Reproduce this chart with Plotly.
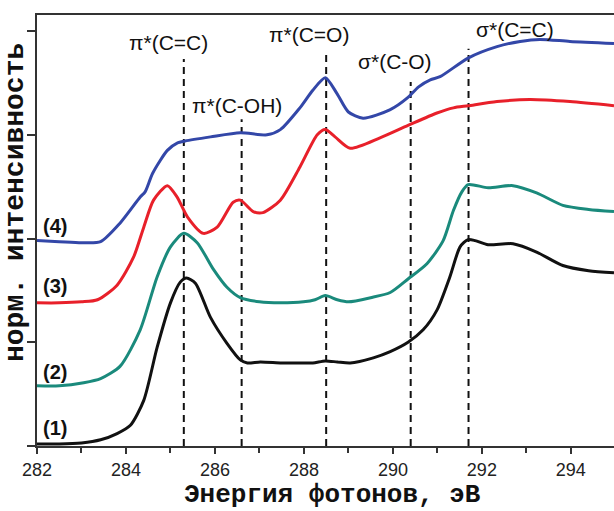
import plotly.graph_objects as go

# ---- data ----
x1 = [282, 282.5, 283, 283.43, 283.8, 284.1, 284.4, 284.7, 285.0, 285.22, 285.36, 285.56, 285.9, 286.27, 286.57, 286.73, 287.02, 287.5, 287.91, 288.2, 288.48, 288.75, 289.04, 289.56, 289.94, 290.34, 290.68, 290.99, 291.28, 291.51, 291.69, 291.85, 292.14, 292.7, 293.23, 293.82, 294.4, 294.97]
y1 = [0.02, 0.02, 0.03, 0.06, 0.12, 0.20, 0.44, 0.95, 1.38, 1.58, 1.62, 1.57, 1.24, 0.99, 0.83, 0.80, 0.81, 0.80, 0.80, 0.80, 0.82, 0.81, 0.80, 0.85, 0.91, 1.00, 1.12, 1.31, 1.63, 1.92, 1.99, 1.98, 1.94, 1.95, 1.87, 1.74, 1.69, 1.67]

x2 = [282, 282.5, 283.05, 283.43, 283.87, 284.32, 284.7, 285.0, 285.3, 285.6, 285.97, 286.27, 286.57, 287.0, 287.47, 287.99, 288.25, 288.48, 288.75, 289.0, 289.5, 289.94, 290.34, 290.77, 291.13, 291.36, 291.55, 291.69, 292.14, 292.7, 293.23, 293.82, 294.4, 294.97]
y2 = [0.58, 0.58, 0.61, 0.65, 0.77, 1.12, 1.63, 1.92, 2.05, 1.96, 1.70, 1.53, 1.43, 1.39, 1.38, 1.39, 1.41, 1.45, 1.41, 1.39, 1.43, 1.48, 1.61, 1.76, 1.98, 2.27, 2.45, 2.52, 2.49, 2.51, 2.44, 2.32, 2.28, 2.26]

x3 = [282, 282.5, 283.0, 283.36, 283.8, 284.17, 284.4, 284.62, 284.93, 285.15, 285.38, 285.74, 286.05, 286.41, 286.57, 286.86, 287.08, 287.47, 287.91, 288.3, 288.48, 288.7, 289.04, 289.71, 290.34, 290.99, 291.36, 291.69, 292.34, 293.08, 293.98, 294.97]
y3 = [1.38, 1.38, 1.39, 1.41, 1.55, 1.82, 2.11, 2.37, 2.51, 2.40, 2.21, 2.05, 2.11, 2.35, 2.37, 2.26, 2.25, 2.37, 2.69, 3.00, 3.05, 2.98, 2.87, 2.97, 3.09, 3.21, 3.26, 3.28, 3.32, 3.34, 3.32, 3.28]

x4 = [282, 282.5, 283.0, 283.43, 283.87, 284.32, 284.43, 284.6, 284.93, 285.15, 285.33, 285.9, 286.57, 287.17, 287.47, 287.91, 288.2, 288.48, 288.74, 289.0, 289.33, 289.93, 290.34, 290.57, 290.84, 291.06, 291.69, 292.34, 292.86, 293.3, 293.98, 294.97]
y4 = [1.98, 1.97, 1.96, 1.97, 2.15, 2.40, 2.45, 2.63, 2.85, 2.92, 2.94, 2.98, 3.02, 3.00, 3.05, 3.26, 3.43, 3.55, 3.40, 3.22, 3.16, 3.24, 3.36, 3.46, 3.53, 3.56, 3.74, 3.85, 3.90, 3.92, 3.90, 3.88]

series_x = [x1, x2, x3, x4]
series_y = [y1, y2, y3, y4]
series_names = ["(1)", "(2)", "(3)", "(4)"]
series_colors = ["#111111", "#1a8a7c", "#e8202a", "#3347a8"]
label_y = [0.17, 0.71, 1.54, 2.12]

peak_pos = [285.3, 286.6, 288.5, 290.4, 291.7]
peak_top = [3.73, 3.15, 3.78, 3.51, 3.83]
peak_labels = ["π*(C=C)", "π*(C-OH)", "π*(C=O)", "σ*(C-O)", "σ*(C=C)"]
peak_label_x = [284.95, 286.5, 288.12, 290.05, 292.74]
peak_label_y = [3.89, 3.28, 3.97, 3.71, 4.02]

xticks = [282, 284, 286, 288, 290, 292, 294]
yticks = [0, 1, 2, 3, 4]
x_title = "Энергия фотонов, эВ"
y_title = "норм. интенсивность"

fig = go.Figure()
for xs, ys, nm, c in zip(series_x, series_y, series_names, series_colors):
    fig.add_trace(go.Scatter(x=xs, y=ys, mode="lines", name=nm,
                             line=dict(color=c, width=3, shape="spline", smoothing=0.7)))

for p, t in zip(peak_pos, peak_top):
    fig.add_shape(type="line", x0=p, x1=p, y0=0, y1=t, xref="x", yref="y",
                  line=dict(color="#111111", width=2, dash="7px,5px"), layer="below")

for lx, ly, txt in zip(peak_label_x, peak_label_y, peak_labels):
    fig.add_annotation(x=lx, y=ly, text=txt, showarrow=False, xref="x", yref="y",
                       font=dict(family="Liberation Sans, Arial", size=21, color="#111111"))

for nm, ly in zip(series_names, label_y):
    fig.add_annotation(x=282.08, y=ly, text="<b>" + nm + "</b>", showarrow=False,
                       xref="x", yref="y", xanchor="left",
                       font=dict(family="Liberation Sans, Arial", size=20, color="#111111"))

# axis titles placed as annotations (paper coordinates)
fig.add_annotation(x=(332 - 37) / 577, y=(446 - 495) / 431, xref="paper", yref="paper",
                   text="<b>" + x_title + "</b>", showarrow=False, xanchor="center", yanchor="middle",
                   font=dict(family="Liberation Mono, Courier New", size=26, color="#111111"))
fig.add_annotation(x=(15 - 37) / 577, y=(446 - 203) / 431, xref="paper", yref="paper",
                   text="<b>" + y_title + "</b>", showarrow=False, textangle=-90,
                   xanchor="center", yanchor="middle",
                   font=dict(family="Liberation Mono, Courier New", size=28, color="#111111"))

fig.update_layout(
    width=614, height=511,
    margin=dict(l=37, r=0, t=15, b=65),
    paper_bgcolor="white", plot_bgcolor="white",
    showlegend=False,
    xaxis=dict(range=[282, 294.97], tickvals=xticks, ticks="outside", ticklen=6, tickwidth=1.5,
               tickcolor="#333333", showline=True, linecolor="#333333", linewidth=2, mirror=True,
               showgrid=False, zeroline=False, automargin=False,
               minor=dict(dtick=1, ticks="outside", ticklen=5, tickcolor="#333333", tickwidth=1.5, showgrid=False),
               tickfont=dict(family="Liberation Sans, Arial", size=18, color="#222222")),
    yaxis=dict(range=[0, 4.155], tickvals=yticks, showticklabels=False, ticks="outside", ticklen=8,
               tickwidth=1.5, tickcolor="#333333", showline=True, linecolor="#333333", linewidth=2,
               mirror=True, showgrid=False, zeroline=False, automargin=False),
)

fig.write_html("out.html")
